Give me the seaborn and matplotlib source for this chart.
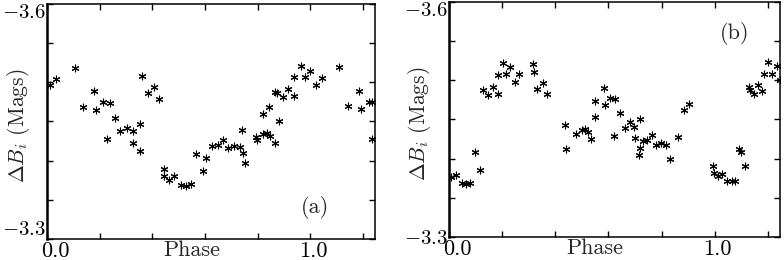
import numpy as np
import pandas as pd
import matplotlib
matplotlib.use("Agg")
import matplotlib.pyplot as plt
import matplotlib.transforms as mtransforms
import seaborn as sns

# ---- data ----
phase_a = [0.011, 0.035, 0.106, 0.138, 0.178, 0.185, 0.214, 0.238, 0.227, 0.258,
           0.278, 0.302, 0.325, 0.328, 0.354, 0.353, 0.361, 0.382, 0.406, 0.426,
           0.445, 0.445, 0.463, 0.483, 0.509, 0.526, 0.545, 0.564, 0.591, 0.603,
           0.625, 0.648, 0.668, 0.688, 0.710, 0.734, 0.741, 0.745, 0.750, 0.793,
           0.796, 0.821, 0.834, 0.820, 0.843, 0.846, 0.880, 0.865, 0.865, 0.874,
           0.894, 0.915, 0.939, 0.939, 0.963, 0.980, 0.998, 1.020, 1.043, 1.109,
           1.143, 1.185, 1.190, 1.222, 1.232, 1.235]
mag_a = [-3.496, -3.504, -3.518, -3.469, -3.489, -3.465, -3.475, -3.474, -3.428, -3.455,
         -3.438, -3.442, -3.438, -3.423, -3.447, -3.412, -3.508, -3.487, -3.494, -3.479,
         -3.389, -3.381, -3.375, -3.380, -3.369, -3.368, -3.370, -3.408, -3.387, -3.403,
         -3.419, -3.420, -3.427, -3.416, -3.419, -3.417, -3.439, -3.410, -3.397, -3.430,
         -3.426, -3.434, -3.435, -3.460, -3.469, -3.432, -3.451, -3.422, -3.488, -3.487,
         -3.481, -3.491, -3.483, -3.507, -3.521, -3.507, -3.514, -3.497, -3.506, -3.519,
         -3.470, -3.489, -3.466, -3.475, -3.475, -3.428]

phase_b = [0.008, 0.028, 0.050, 0.063, 0.078, 0.096, 0.116, 0.129, 0.148, 0.164,
           0.183, 0.183, 0.203, 0.216, 0.231, 0.248, 0.265, 0.318, 0.320, 0.333,
           0.353, 0.370, 0.437, 0.442, 0.478, 0.500, 0.512, 0.525, 0.536, 0.550,
           0.551, 0.585, 0.587, 0.606, 0.625, 0.622, 0.642, 0.663, 0.680, 0.697,
           0.720, 0.702, 0.720, 0.714, 0.729, 0.745, 0.765, 0.781, 0.797, 0.815,
           0.831, 0.862, 0.885, 0.904, 0.994, 0.997, 1.012, 1.027, 1.046, 1.066,
           1.078, 1.090, 1.100, 1.115, 1.128, 1.132, 1.150, 1.164, 1.177, 1.184,
           1.200, 1.215, 1.233, 1.247]
mag_b = [-3.376, -3.379, -3.369, -3.368, -3.369, -3.408, -3.386, -3.488, -3.481, -3.492,
         -3.483, -3.507, -3.522, -3.508, -3.517, -3.498, -3.508, -3.521, -3.511, -3.489,
         -3.497, -3.483, -3.443, -3.412, -3.432, -3.437, -3.438, -3.434, -3.425, -3.453,
         -3.473, -3.490, -3.468, -3.478, -3.476, -3.429, -3.458, -3.439, -3.447, -3.440,
         -3.450, -3.426, -3.414, -3.405, -3.422, -3.424, -3.430, -3.418, -3.420, -3.418,
         -3.400, -3.428, -3.462, -3.470, -3.391, -3.382, -3.378, -3.381, -3.372, -3.371,
         -3.372, -3.412, -3.409, -3.390, -3.491, -3.488, -3.483, -3.494, -3.486, -3.508,
         -3.524, -3.508, -3.518, -3.500]

panel_labels = ["(a)", "(b)"]
x_ticklabels = ["0.0", "1.0"]
y_ticklabels = [r"$-3.6$", r"$-3.3$"]

# ---- style ----
sns.set_theme(style="ticks")
plt.rcParams["font.family"] = ["cmr10", "DejaVu Serif"]
plt.rcParams["mathtext.fontset"] = "cm"
plt.rcParams["axes.unicode_minus"] = False
plt.rcParams["axes.formatter.use_mathtext"] = True

fig = plt.figure(figsize=(7.84, 2.6), dpi=100)
ax_a = fig.add_axes([47/784, 1-239/260, 328/784, 235/260])
ax_b = fig.add_axes([449/784, 1-237/260, 331/784, 235/260])

panels = [(ax_a, phase_a, mag_a, (0.817, 0.136), 1.245, -0.046),
          (ax_b, phase_b, mag_b, (0.864, 0.864), 1.246, -0.048)]

for i, (ax, ph, mg, lpos, xmax, ylx) in enumerate(panels):
    df = pd.DataFrame({"phase": ph, "mag": mg})
    sns.scatterplot(data=df, x="phase", y="mag", ax=ax, marker=(6, 2, 0),
                    s=24, color="black", linewidth=0.8, edgecolor="black")
    ax.set_xlim(0, xmax)
    ax.set_ylim(-3.3, -3.6)
    ax.set_xticks(np.arange(0, 1.21, 0.2))
    ax.set_xticklabels([x_ticklabels[0], "", "", "", "", x_ticklabels[1], ""])
    ax.set_yticks(np.arange(-3.6, -3.299, 0.05))
    ylabs = [""] * 7
    ylabs[0] = y_ticklabels[0]
    ylabs[-1] = y_ticklabels[1]
    ax.set_yticklabels(ylabs)
    ax.tick_params(axis="both", which="major", direction="in", length=4, width=1,
                   top=True, right=True, colors="black")
    ax.tick_params(axis="x", labelsize=16, pad=1.5)
    ax.tick_params(axis="y", labelsize=15, pad=1.0)
    for sp in ax.spines.values():
        sp.set_linewidth(1.1)
        sp.set_color("black")
    ax.spines["left"].set_linewidth(1.8)
    ax.set_xlabel("Phase", fontsize=16)
    ax.xaxis.set_label_coords(0.44, -0.008)
    ax.set_ylabel(r"$\Delta B_i$ (Mags)", fontsize=15.5)
    ax.yaxis.set_label_coords(ylx, 0.48)
    tl = ax.get_yticklabels()
    tl[0].set_va("top")
    if i == 0:
        tl[-1].set_va("bottom")
    # shift the x tick labels slightly right as in the reference
    xtl = ax.get_xticklabels()
    for lab, dx in ((xtl[0], 8.0), (xtl[5], 3.0)):
        lab.set_transform(lab.get_transform() +
                          mtransforms.ScaledTranslation(dx / 100, 0, fig.dpi_scale_trans))
    ax.text(lpos[0], lpos[1], panel_labels[i], transform=ax.transAxes,
            ha="center", va="center", fontsize=16)

fig.savefig("out.png", dpi=100)
